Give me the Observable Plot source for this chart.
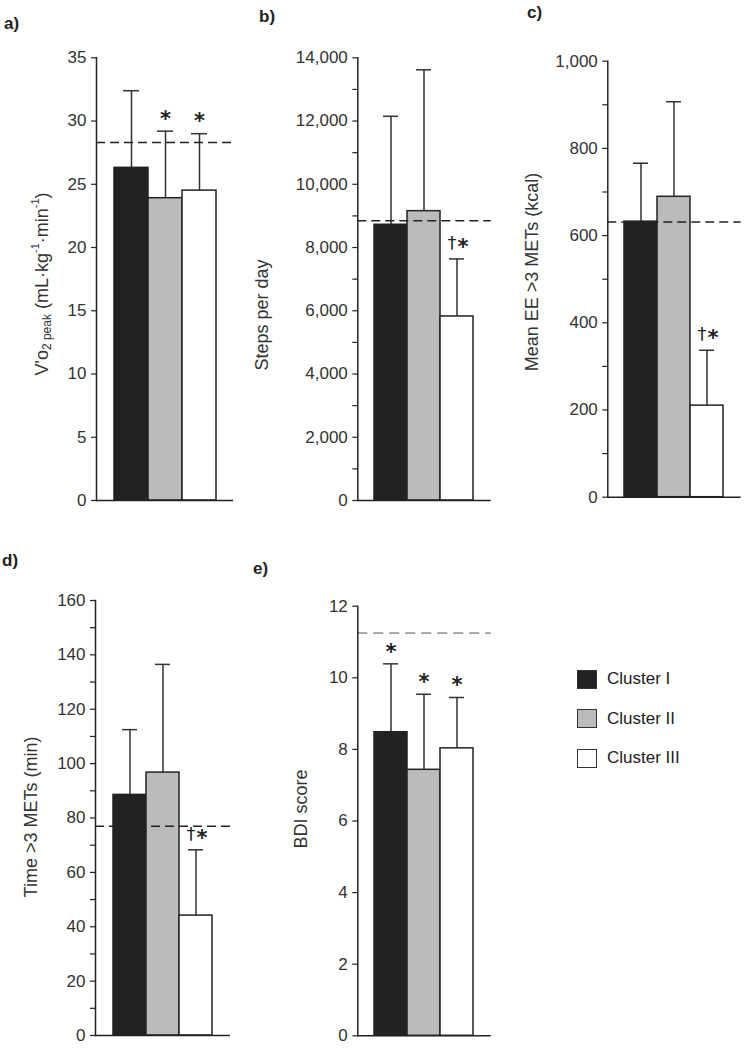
<!DOCTYPE html>
<html><head><meta charset="utf-8">
<script src="https://cdn.jsdelivr.net/npm/d3@7"></script>
<script src="https://cdn.jsdelivr.net/npm/@observablehq/plot@0.6"></script>
<style>
body{margin:0;background:#fff;font-family:"Liberation Sans",Arial,sans-serif;}
#root{position:relative;width:750px;height:1049px;overflow:hidden;background:#fff;}
.panel{position:absolute;}
.letter{position:absolute;font-weight:bold;font-size:17px;color:#222;line-height:1;}
.legend{position:absolute;left:577px;top:669px;}
.item{display:flex;align-items:center;height:20px;margin-bottom:19.5px;font-size:17px;color:#222;}
.sw{display:inline-block;width:18px;height:17px;border:1.5px solid #333;margin-right:10px;}
</style></head><body><div id="root"></div>
<script>
// ---- data ----
const clusters = ["Cluster I", "Cluster II", "Cluster III"];
const clusterColors = ["#222222", "#bbbbbb", "#ffffff"];

const vo2Mean = [26.3, 23.9, 24.5];
const vo2SD = [6.1, 5.3, 4.5];
const vo2Ref = 28.3;
const vo2Notes = ["", "*", "*"];
const vo2Ticks = [0, 5, 10, 15, 20, 25, 30, 35];

const stepsMean = [8720, 9150, 5820];
const stepsSD = [3430, 4470, 1820];
const stepsRef = 8850;
const stepsNotes = ["", "", "†*"];
const stepsTicks = [0, 2000, 4000, 6000, 8000, 10000, 12000, 14000];
const stepsMinor = [1000, 3000, 5000, 7000, 9000, 11000, 13000];

const eeMean = [632, 689, 210];
const eeSD = [134, 218, 127];
const eeRef = 631;
const eeNotes = ["", "", "†*"];
const eeTicks = [0, 200, 400, 600, 800, 1000];
const eeMinor = [100, 300, 500, 700, 900];

const timeMean = [88.5, 96.7, 44.1];
const timeSD = [24.0, 39.8, 24.2];
const timeRef = 77;
const timeNotes = ["", "", "†*"];
const timeTicks = [0, 20, 40, 60, 80, 100, 120, 140, 160];
const timeMinor = [10, 30, 50, 70, 90, 110, 130, 150];

const bdiMean = [8.48, 7.43, 8.03];
const bdiSD = [1.91, 2.11, 1.42];
const bdiRef = 11.25;
const bdiNotes = ["*", "*", "*"];
const bdiTicks = [0, 2, 4, 6, 8, 10, 12];

// ---- layout ----
const root = document.getElementById("root");
const fmtComma = d3.format(",");
const fmtPlain = d => String(d);

const panels = [
  {letter:"a)", lx:4, ly:15, mean:vo2Mean, sd:vo2SD, ref:vo2Ref, notes:vo2Notes, ticks:vo2Ticks, minor:null, fmt:fmtPlain, max:35,
   left:0, top:0, w:250, h:530, ml:96, mr:17, mt:57.3, mb:30, labelX:43, labelY:284, label:"vo2"},
  {letter:"b)", lx:259, ly:8, mean:stepsMean, sd:stepsSD, ref:stepsRef, notes:stepsNotes, ticks:stepsTicks, minor:stepsMinor, fmt:fmtComma, max:14000,
   left:250, top:0, w:250, h:530, ml:107.3, mr:9.3, mt:57.3, mb:30, labelX:13, labelY:315, label:"Steps per day"},
  {letter:"c)", lx:527, ly:4, mean:eeMean, sd:eeSD, ref:eeRef, notes:eeNotes, ticks:eeTicks, minor:eeMinor, fmt:fmtComma, max:1000,
   left:500, top:0, w:250, h:530, ml:107.3, mr:9.3, mt:60.7, mb:33.3, labelX:33, labelY:272, label:"Mean EE >3 METs (kcal)"},
  {letter:"d)", lx:2, ly:552, mean:timeMean, sd:timeSD, ref:timeRef, notes:timeNotes, ticks:timeTicks, minor:timeMinor, fmt:fmtPlain, max:160,
   left:0, top:540, w:250, h:509, ml:95, mr:20, mt:60, mb:14, labelX:32, labelY:277, label:"Time >3 METs (min)"},
  {letter:"e)", lx:253, ly:560, mean:bdiMean, sd:bdiSD, ref:bdiRef, notes:bdiNotes, ticks:bdiTicks, minor:null, fmt:fmtPlain, max:12,
   left:250, top:540, w:250, h:509, ml:107.3, mr:9.3, mt:65.7, mb:13.7, labelX:52, labelY:269, label:"BDI score", lightRef:true}
];

const noteFont = '"DejaVu Sans", sans-serif';

for (const p of panels) {
  const data = clusters.map((c, i) => ({
    cluster: c, mean: p.mean[i], upper: p.mean[i] + p.sd[i],
    dagger: p.notes[i].includes("†"), star: p.notes[i].includes("*")
  }));
  const marks = [
    Plot.ruleX(data, {x: "cluster", y1: "mean", y2: "upper", stroke: "#333", strokeWidth: 1.5}),
    Plot.tickY(data, {x: "cluster", y: "upper", stroke: "#333", strokeWidth: 1.5, insetLeft: 9, insetRight: 9}),
    Plot.barY(data, {x: "cluster", y: "mean", fill: "cluster", stroke: "#222", strokeWidth: 1.5, inset: 0}),
    Plot.ruleY([p.ref], p.lightRef
      ? {stroke: "#555", strokeWidth: 1, strokeDasharray: "10,6"}
      : {stroke: "#222", strokeWidth: 1.5, strokeDasharray: "9,5"}),
    // stars alone, centred over the error bar
    Plot.text(data, {filter: d => d.star && !d.dagger, x: "cluster", y: "upper", text: () => "*", dy: -12,
      fontSize: 21, fontWeight: "bold", fontFamily: noteFont, fill: "#222"}),
    // dagger + star pairs
    Plot.text(data, {filter: d => d.dagger, x: "cluster", y: "upper", text: () => "†", dy: -16, dx: -5,
      fontSize: 18, fontWeight: "normal", fontFamily: noteFont, fill: "#222"}),
    Plot.text(data, {filter: d => d.star && d.dagger, x: "cluster", y: "upper", text: () => "*", dy: -12, dx: 6,
      fontSize: 21, fontWeight: "bold", fontFamily: noteFont, fill: "#222"}),
    Plot.ruleY([0], {stroke: "#222", strokeWidth: 1.5}),
    Plot.frame({anchor: "left", stroke: "#222", strokeWidth: 1.5}),
    Plot.axisY({ticks: p.ticks, tickSize: 5, tickPadding: 5, tickFormat: p.fmt, fontSize: 17, label: null, stroke: "#222", strokeWidth: 1.2})
  ];
  if (p.minor) marks.push(Plot.axisY({ticks: p.minor, tickSize: 5, text: null, label: null, stroke: "#222", strokeWidth: 1.2}));
  const svg = Plot.plot({
    width: p.w, height: p.h,
    marginLeft: p.ml, marginRight: p.mr, marginTop: p.mt, marginBottom: p.mb,
    style: {background: "transparent", overflow: "visible", fontFamily: '"Liberation Sans", Arial, sans-serif', color: "#333"},
    x: {domain: clusters, paddingInner: 0, paddingOuter: 0.5, axis: null},
    y: {domain: [0, p.max], axis: null},
    color: {domain: clusters, range: clusterColors},
    marks
  });
  const wrap = document.createElement("div");
  wrap.className = "panel";
  wrap.style.left = p.left + "px";
  wrap.style.top = p.top + "px";
  wrap.appendChild(svg);
  root.appendChild(wrap);

  // y-axis title
  const t = d3.select(svg).append("text")
    .attr("transform", `translate(${p.labelX},${p.labelY}) rotate(-90)`)
    .attr("text-anchor", "middle").attr("dominant-baseline", "middle")
    .attr("font-size", 18).attr("fill", "#333");
  if (p.label === "vo2") {
    t.append("tspan").text("V'o");
    t.append("tspan").attr("font-size", 12).attr("dy", 5).text("2 peak");
    t.append("tspan").attr("dy", -5).text(" (mL·kg");
    t.append("tspan").attr("font-size", 11).attr("dy", -7).text("-1");
    t.append("tspan").attr("dy", 7).text("·min");
    t.append("tspan").attr("font-size", 11).attr("dy", -7).text("-1");
    t.append("tspan").attr("dy", 7).text(")");
  } else {
    t.text(p.label);
  }

  const L = document.createElement("div");
  L.className = "letter";
  L.style.left = p.lx + "px";
  L.style.top = p.ly + "px";
  L.textContent = p.letter;
  root.appendChild(L);
}

// legend
const legend = document.createElement("div");
legend.className = "legend";
clusters.forEach((c, i) => {
  const item = document.createElement("div");
  item.className = "item";
  const sw = document.createElement("span");
  sw.className = "sw";
  sw.style.background = clusterColors[i];
  item.appendChild(sw);
  item.appendChild(document.createTextNode(c));
  legend.appendChild(item);
});
root.appendChild(legend);
</script>
</body></html>
